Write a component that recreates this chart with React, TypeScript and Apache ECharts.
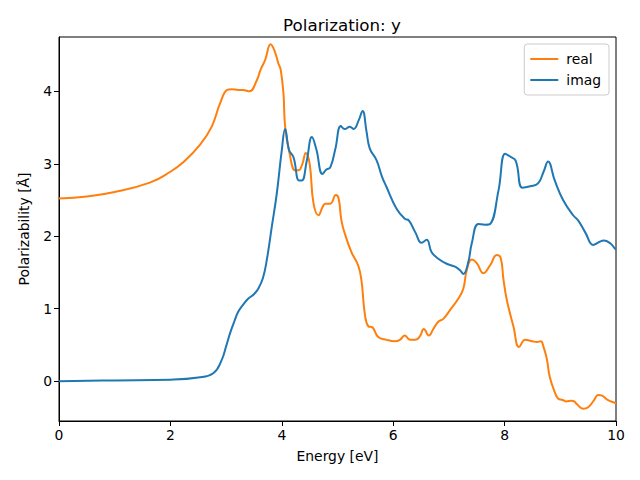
import React, { useEffect, useRef } from "react";
import * as echarts from "echarts";

const realEnergy = [0, 0.5, 1.0, 1.63, 2.0, 2.23, 2.53, 2.74, 2.89, 3.02, 3.1, 3.22, 3.3, 3.42, 3.55, 3.62, 3.7, 3.8, 3.87, 3.94, 3.98, 4.03, 4.06, 4.14, 4.24, 4.3, 4.37, 4.43, 4.5, 4.57, 4.66, 4.73, 4.78, 4.87, 4.97, 5.02, 5.07, 5.13, 5.25, 5.37, 5.43, 5.49, 5.55, 5.63, 5.73, 5.88, 6.03, 6.12, 6.21, 6.3, 6.4, 6.48, 6.55, 6.64, 6.72, 6.81, 6.9, 7.02, 7.17, 7.26, 7.32, 7.41, 7.5, 7.62, 7.74, 7.86, 7.93, 7.98, 8.04, 8.16, 8.26, 8.37, 8.5, 8.58, 8.65, 8.7, 8.76, 8.81, 8.9, 8.96, 9.04, 9.11, 9.2, 9.25, 9.3, 9.41, 9.5, 9.6, 9.68, 9.75, 9.85, 9.98, 10];
const realValues = [2.52, 2.55, 2.61, 2.74, 2.89, 3.02, 3.26, 3.51, 3.83, 4.02, 4.03, 4.02, 4.02, 4.0, 4.15, 4.3, 4.43, 4.65, 4.56, 4.38, 4.3, 3.97, 3.51, 3.14, 2.91, 2.91, 3.0, 3.15, 3.0, 2.45, 2.29, 2.4, 2.45, 2.45, 2.57, 2.52, 2.22, 2.04, 1.78, 1.6, 1.39, 0.93, 0.76, 0.74, 0.61, 0.57, 0.55, 0.57, 0.63, 0.57, 0.57, 0.62, 0.72, 0.63, 0.72, 0.82, 0.86, 0.98, 1.14, 1.28, 1.53, 1.68, 1.63, 1.49, 1.6, 1.74, 1.7, 1.4, 1.12, 0.75, 0.47, 0.57, 0.55, 0.54, 0.55, 0.47, 0.3, 0.06, -0.15, -0.24, -0.26, -0.28, -0.27, -0.28, -0.32, -0.38, -0.36, -0.27, -0.19, -0.2, -0.26, -0.3, -0.31];

const imagEnergy = [0, 1, 2, 2.5, 2.77, 2.92, 3.0, 3.07, 3.15, 3.22, 3.32, 3.4, 3.5, 3.58, 3.66, 3.73, 3.82, 3.91, 4.0, 4.06, 4.13, 4.21, 4.31, 4.36, 4.45, 4.54, 4.62, 4.73, 4.8, 4.87, 4.96, 5.06, 5.13, 5.22, 5.29, 5.38, 5.45, 5.52, 5.58, 5.7, 5.8, 5.88, 6.06, 6.21, 6.28, 6.4, 6.51, 6.6, 6.69, 6.81, 6.96, 7.11, 7.2, 7.26, 7.35, 7.41, 7.53, 7.65, 7.74, 7.89, 8.01, 8.1, 8.2, 8.32, 8.46, 8.6, 8.7, 8.78, 8.9, 9.05, 9.23, 9.32, 9.45, 9.59, 9.7, 9.78, 9.9, 9.98, 10];
const imagValues = [0.0, 0.01, 0.02, 0.05, 0.11, 0.29, 0.48, 0.66, 0.83, 0.96, 1.07, 1.14, 1.2, 1.28, 1.42, 1.67, 2.13, 2.59, 3.19, 3.48, 3.19, 3.09, 2.77, 2.77, 3.05, 3.37, 3.2, 2.86, 2.92, 2.95, 3.2, 3.52, 3.48, 3.51, 3.48, 3.6, 3.73, 3.45, 3.21, 3.05, 2.82, 2.68, 2.38, 2.24, 2.22, 2.05, 1.91, 1.95, 1.78, 1.69, 1.62, 1.58, 1.53, 1.48, 1.65, 1.9, 2.17, 2.16, 2.17, 2.63, 3.14, 3.1, 3.04, 2.67, 2.69, 2.73, 2.89, 3.03, 2.77, 2.5, 2.29, 2.22, 2.05, 1.88, 1.92, 1.94, 1.9, 1.83, 1.82];

const xTicks = [0, 2, 4, 6, 8, 10];
const yTicks = [0, 1, 2, 3, 4];

const FONT = "DejaVu Sans";

export default function App() {
  const ref = useRef<HTMLDivElement>(null);
  useEffect(() => {
    if (!ref.current) return;
    const chart = echarts.init(ref.current, null, { renderer: "svg" });
    const pairs = (xs: number[], ys: number[]) => xs.map((x, i) => [x, ys[i]]);
    chart.setOption({
      animation: false,
      backgroundColor: "#fff",
      textStyle: { fontFamily: FONT },
      title: {
        text: "Polarization: y",
        left: 337,
        textAlign: "center",
        top: 11,
        textStyle: { fontFamily: FONT, fontSize: 16.7, fontWeight: "normal", color: "#000" },
      },
      legend: {
        orient: "vertical",
        right: 31,
        top: 44,
        padding: [7, 8, 7, 6],
        itemWidth: 28,
        itemHeight: 2,
        itemGap: 5,
        icon: "rect",
        borderColor: "#ccc",
        borderWidth: 1,
        borderRadius: 3,
        backgroundColor: "rgba(255,255,255,0.8)",
        textStyle: { fontFamily: FONT, fontSize: 13.9, color: "#000", padding: [0, 0, 0, 3], lineHeight: 16 },
        data: ["real", "imag"],
      },
      grid: {
        left: 59,
        right: 24,
        top: 37,
        bottom: 59,
        show: true,
        borderColor: "#000",
        borderWidth: 1,
        containLabel: false,
      },
      xAxis: {
        type: "value",
        min: 0,
        max: 10,
        name: "Energy [eV]",
        nameLocation: "middle",
        nameGap: 28,
        nameTextStyle: { fontFamily: FONT, fontSize: 13.9, color: "#000" },
        axisLine: { show: true, onZero: false, lineStyle: { color: "#000", width: 1 } },
        axisTick: { show: true, length: 5, inside: false, lineStyle: { color: "#000" }, customValues: xTicks },
        axisLabel: { fontFamily: FONT, fontSize: 13.9, color: "#000", margin: 7, customValues: xTicks },
        splitLine: { show: false },
      },
      yAxis: {
        type: "value",
        min: -0.55,
        max: 4.75,
        name: "Polarizability [Å]",
        nameLocation: "middle",
        nameGap: 28,
        nameTextStyle: { fontFamily: FONT, fontSize: 13.9, color: "#000" },
        axisLine: { show: true, onZero: false, lineStyle: { color: "#000", width: 1 } },
        axisTick: { show: true, length: 5, inside: false, lineStyle: { color: "#000" }, customValues: yTicks },
        axisLabel: { fontFamily: FONT, fontSize: 13.9, color: "#000", margin: 7, customValues: yTicks },
        splitLine: { show: false },
      },
      series: [
        {
          name: "real",
          type: "line",
          data: pairs(realEnergy, realValues),
          symbol: "none",
          showSymbol: false,
          smooth: 0.45,
          lineStyle: { color: "#ff7f0e", width: 2 },
          itemStyle: { color: "#ff7f0e" },
        },
        {
          name: "imag",
          type: "line",
          data: pairs(imagEnergy, imagValues),
          symbol: "none",
          showSymbol: false,
          smooth: 0.45,
          lineStyle: { color: "#1f77b4", width: 2 },
          itemStyle: { color: "#1f77b4" },
        },
      ],
    });
    return () => chart.dispose();
  }, []);
  return <div ref={ref} style={{ width: 640, height: 480, position: "absolute", left: 0, top: 0 }} />;
}
